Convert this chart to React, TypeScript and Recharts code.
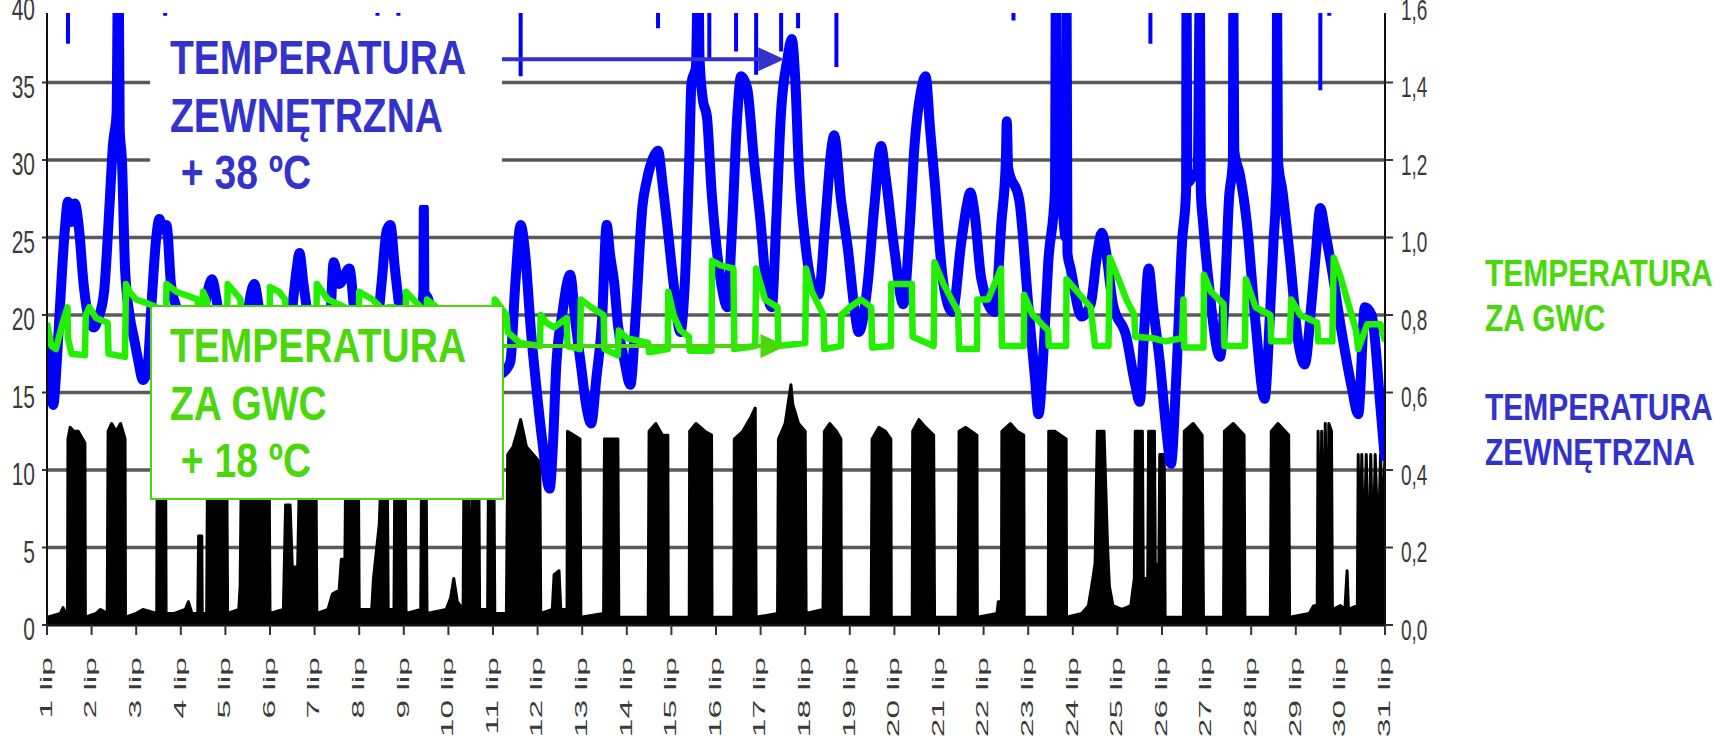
import React from "react";
import { Area, CartesianGrid, ComposedChart, Line, ReferenceLine, XAxis, YAxis } from "recharts";

// dni lipca na osi X
const dayTicks = Array.from({ length: 31 }, (_, i) => i + 1);
const tempTicks = [0, 5, 10, 15, 20, 25, 30, 35, 40];
const flowTicks = [0, 0.2, 0.4, 0.6, 0.8, 1.0, 1.2, 1.4, 1.6];

// temperatura zewnętrzna [dzień, °C]
const outdoorTemp: [number, number][] = [
  [1.0, 18], [1.08, 15.5], [1.14, 14.2], [1.22, 17], [1.3, 21], [1.4, 25.5], [1.47, 27.3], [1.55, 26], [1.62, 27.2], [1.72, 25.5], [1.82, 22], [1.92, 20],
  [2.05, 19.2], [2.15, 19.8], [2.28, 21.5], [2.4, 27], [2.48, 31], [2.56, 33], [2.59, 41], [2.61, 41], [2.63, 32], [2.68, 30], [2.75, 23], [2.85, 20], [2.95, 18.5],
  [3.05, 17], [3.15, 15.8], [3.25, 16.5], [3.35, 21], [3.45, 25], [3.52, 26.2], [3.6, 25.5], [3.68, 25.8], [3.78, 22], [3.9, 20.5],
  [4.0, 19.5], [4.15, 17], [4.3, 16], [4.45, 19], [4.6, 21.5], [4.7, 22.3], [4.8, 21], [4.95, 18],
  [5.1, 16.5], [5.3, 16], [5.45, 19], [5.58, 21.5], [5.65, 22], [5.75, 20.5], [5.9, 18],
  [6.1, 16.5], [6.3, 15.5], [6.45, 19], [6.6, 23], [6.66, 24], [6.75, 22], [6.9, 19],
  [7.1, 17], [7.3, 17], [7.43, 23.4], [7.55, 22], [7.78, 23], [7.9, 20],
  [8.1, 17.5], [8.3, 17], [8.5, 22], [8.62, 25.5], [8.7, 25.8], [8.8, 23], [8.95, 19.5],
  [9.15, 17.5], [9.35, 19], [9.44, 21.5], [9.45, 26.9], [9.46, 21.5], [9.55, 21], [9.7, 18.5], [9.9, 17],
  [10.1, 19.5], [10.3, 17.5], [10.5, 15.5], [10.7, 14.5], [10.9, 15],
  [11.1, 16], [11.3, 16.5], [11.39, 17], [11.5, 22], [11.62, 25.8], [11.72, 24], [11.85, 19], [11.97, 15.4],
  [12.1, 12], [12.27, 8.8], [12.35, 12], [12.42, 16.8], [12.55, 20], [12.73, 22.6], [12.85, 19.5], [12.97, 16.8],
  [13.1, 14], [13.2, 13], [13.32, 16], [13.44, 19.4], [13.55, 25.8], [13.62, 24], [13.72, 22], [13.8, 19.4], [13.95, 17],
  [14.08, 15.5], [14.2, 20], [14.35, 27], [14.45, 28.7], [14.6, 30.2], [14.7, 30.6], [14.8, 28.5], [14.9, 26],
  [15.05, 22], [15.2, 18.9], [15.3, 22], [15.4, 30], [15.45, 35], [15.55, 36], [15.59, 41], [15.61, 41], [15.63, 36.7], [15.7, 34], [15.8, 32.7], [15.9, 28],
  [16.0, 24.7], [16.15, 21.5], [16.25, 20.5], [16.35, 25], [16.48, 33], [16.56, 35.4], [16.7, 34.6], [16.85, 30],
  [17.0, 26], [17.12, 22], [17.25, 20.5], [17.35, 26], [17.45, 32.7], [17.6, 36.5], [17.7, 37.8], [17.78, 35], [17.85, 30],
  [18.0, 24.7], [18.15, 22], [18.3, 21.3], [18.45, 26], [18.6, 31], [18.65, 31.6], [18.8, 27.5], [18.96, 24.2],
  [19.1, 20.5], [19.2, 18.9], [19.4, 22], [19.55, 27], [19.7, 30.9], [19.8, 29],
  [20.0, 24.2], [20.2, 20.7], [20.35, 26], [20.45, 30.9], [20.6, 34.5], [20.7, 35.4], [20.8, 32], [20.9, 28.7],
  [21.1, 22], [21.3, 20.2], [21.5, 24.7], [21.62, 27], [21.7, 27.9], [21.8, 26.5], [21.95, 22.3],
  [22.25, 20.2], [22.4, 26], [22.5, 30], [22.52, 32.5], [22.55, 29.5], [22.8, 27.4],
  [23.0, 20.7], [23.15, 16], [23.23, 13.6], [23.35, 18], [23.45, 23.4], [23.6, 28], [23.62, 41], [23.64, 28.5], [23.7, 29.5], [23.84, 25], [23.86, 41], [23.88, 24], [23.95, 23],
  [24.2, 19.9], [24.4, 20.7], [24.55, 24], [24.65, 25.3], [24.75, 24], [24.9, 20.7],
  [25.2, 18.6], [25.4, 15.5], [25.5, 14.4], [25.6, 19], [25.7, 23], [25.8, 20.5], [25.95, 17],
  [26.1, 12.5], [26.2, 10.4], [26.32, 16], [26.45, 24.7], [26.54, 28], [26.55, 41], [26.57, 28.5], [26.7, 29], [26.8, 29.3], [26.85, 41], [26.87, 28], [26.92, 26],
  [27.05, 22], [27.3, 17.3], [27.42, 22], [27.5, 27.4], [27.59, 30], [27.6, 41], [27.62, 30.6], [27.75, 29], [27.9, 26],
  [28.1, 19.4], [28.3, 14.6], [28.42, 20], [28.5, 24.7], [28.57, 29], [28.58, 41], [28.6, 30], [28.7, 28], [28.85, 24.2],
  [29.07, 18], [29.2, 16.8], [29.35, 20.7], [29.45, 24], [29.55, 26.9], [29.65, 25.5], [29.8, 23.1],
  [30.0, 19.4], [30.25, 15.4], [30.4, 13.6], [30.55, 20.5], [30.7, 20], [30.9, 14], [31.0, 10.6],
];

// oderwane odczyty przy górnej krawędzi [dzień, od °C, do °C]
const outdoorSpikes: [number, number, number][] = [
  [1.47, 37.5, 41], [3.65, 39.3, 41], [8.41, 39.3, 41], [8.88, 39.3, 41], [11.62, 35.4, 41], [14.7, 38.5, 41],
  [15.85, 36.5, 41], [16.45, 37, 41], [16.9, 35.5, 41], [17.46, 37, 41], [17.84, 38.5, 41], [18.7, 36, 41],
  [22.67, 39, 41], [25.74, 37.5, 41], [29.55, 34.5, 41], [29.75, 39.3, 41],
];

// temperatura za GWC [dzień, °C]
const gwcTemp: [number, number][] = [
  [1.0, 19.5], [1.1, 18], [1.2, 17.8], [1.35, 19.5], [1.46, 20.5], [1.47, 18.5], [1.55, 17.5], [1.85, 17.4], [1.87, 20], [1.95, 20.5],
  [2.1, 19.8], [2.36, 19.5], [2.38, 17.5], [2.75, 17.3], [2.77, 22], [2.85, 21.5], [3.0, 21], [3.2, 20.8], [3.46, 20.5], [3.48, 18.5],
  [3.66, 18.5], [3.68, 22], [3.9, 21.5], [4.38, 21], [4.4, 18.5], [4.48, 19], [4.5, 21.5], [4.58, 21], [4.6, 18], [5.03, 18],
  [5.05, 22], [5.2, 21.5], [5.34, 21], [5.36, 18], [5.98, 18], [6.0, 21.8], [6.2, 21.5], [6.34, 21], [6.36, 19], [6.65, 19],
  [6.68, 18], [7.03, 18], [7.05, 22], [7.3, 21], [7.68, 20.5], [7.7, 18], [7.98, 18], [8.0, 21.5], [8.3, 21], [8.48, 20.5],
  [8.5, 18], [8.63, 18], [8.65, 20.5], [8.78, 20.5], [8.8, 18], [9.03, 18], [9.05, 21.5], [9.38, 20.5], [9.4, 18], [9.5, 18],
  [9.52, 21], [9.95, 20], [10.33, 19.5], [10.35, 18], [10.45, 18], [10.47, 19.5], [10.55, 18], [10.68, 18], [10.7, 19.5], [10.88, 19],
  [10.9, 18], [11.02, 18], [11.04, 21], [11.3, 20], [11.33, 18.9], [11.6, 18.2], [12.05, 18], [12.07, 20], [12.2, 19.5], [12.37, 19.2],
  [12.65, 19.8], [12.67, 18], [12.95, 17.8], [12.97, 21], [13.2, 20.5], [13.48, 20], [13.5, 17.8], [13.8, 17.4], [13.82, 19], [14.0, 18.5],
  [14.48, 18.2], [14.5, 17.6], [14.92, 17.8], [14.93, 21.5], [15.05, 20], [15.2, 19], [15.39, 18.6], [15.41, 17.7], [15.9, 17.7], [15.91, 23.5],
  [16.1, 23.2], [16.39, 23], [16.41, 17.8], [16.88, 18], [16.9, 23], [17.1, 21], [17.38, 20.5], [17.4, 18], [18.0, 18.2], [18.02, 23],
  [18.15, 21.5], [18.41, 20], [18.43, 17.8], [18.8, 18], [18.81, 20], [19.0, 20.5], [19.25, 21], [19.48, 20.5], [19.5, 17.9], [19.92, 18],
  [19.93, 22], [20.15, 22], [20.39, 22], [20.41, 18.6], [20.88, 18], [20.9, 23.4], [21.1, 22], [21.43, 20.2], [21.45, 17.8], [21.85, 17.8],
  [21.86, 21], [22.1, 21], [22.39, 23], [22.41, 18], [22.9, 18], [22.91, 21.3], [23.1, 20], [23.45, 19], [23.46, 18], [23.85, 18],
  [23.86, 22.3], [24.1, 21.5], [24.4, 20.5], [24.5, 18], [24.8, 18], [24.83, 23.7], [25.0, 22.5], [25.2, 21], [25.38, 20], [25.4, 18.6],
  [25.8, 18.5], [26.07, 18.3], [26.45, 18.5], [26.48, 21], [26.5, 17.9], [26.93, 17.9], [26.94, 22.6], [27.1, 21.5], [27.38, 20.7], [27.4, 18],
  [27.86, 18], [27.88, 22.3], [28.1, 20.5], [28.43, 20], [28.45, 18.3], [28.86, 18.3], [28.9, 21], [29.1, 20], [29.48, 19.5], [29.5, 18.3],
  [29.82, 18.3], [29.85, 23.7], [30.0, 22.5], [30.2, 20.5], [30.35, 19], [30.4, 17.8], [30.6, 19.4], [30.9, 19.4], [31.0, 18.3],
];

// przepływ wentylatora, prawa oś [dzień, wartość]
const fanFlow: [number, number][] = [
  [1.0, 0.02], [1.3, 0.03], [1.36, 0.045], [1.42, 0.03], [1.46, 0.03], [1.47, 0.48], [1.52, 0.51], [1.6, 0.5], [1.7, 0.5], [1.8, 0.48], [1.85, 0.47], [1.86, 0.02],
  [2.1, 0.03], [2.2, 0.04], [2.35, 0.03], [2.37, 0.5], [2.45, 0.52], [2.55, 0.5], [2.65, 0.52], [2.75, 0.48], [2.76, 0.02],
  [3.0, 0.03], [3.15, 0.04], [3.46, 0.03], [3.47, 0.4], [3.55, 0.42], [3.58, 0.14], [3.62, 0.14], [3.63, 0.4], [3.66, 0.42], [3.67, 0.03],
  [3.85, 0.03], [4.1, 0.04], [4.17, 0.06], [4.25, 0.03], [4.38, 0.03], [4.4, 0.23], [4.47, 0.23], [4.48, 0.03], [4.58, 0.03],
  [4.6, 0.42], [4.7, 0.44], [4.75, 0.1], [4.8, 0.44], [4.95, 0.42], [5.03, 0.42], [5.05, 0.03], [5.3, 0.04], [5.33, 0.1],
  [5.36, 0.42], [5.5, 0.44], [5.7, 0.43], [5.9, 0.42], [5.98, 0.42], [6.0, 0.03], [6.3, 0.04], [6.35, 0.31], [6.45, 0.31],
  [6.5, 0.15], [6.62, 0.15], [6.66, 0.38], [6.75, 0.4], [6.8, 0.2], [6.85, 0.42], [7.03, 0.42], [7.05, 0.03], [7.3, 0.04],
  [7.4, 0.08], [7.55, 0.09], [7.6, 0.17], [7.68, 0.17], [7.7, 0.44], [7.98, 0.44], [8.0, 0.04], [8.28, 0.04], [8.32, 0.12],
  [8.45, 0.26], [8.5, 0.42], [8.63, 0.42], [8.65, 0.04], [8.78, 0.04], [8.8, 0.42], [9.03, 0.42], [9.05, 0.03], [9.38, 0.04],
  [9.4, 0.42], [9.5, 0.42], [9.52, 0.03], [9.95, 0.04], [10.05, 0.07], [10.12, 0.12], [10.2, 0.06], [10.33, 0.04], [10.35, 0.42],
  [10.45, 0.42], [10.47, 0.04], [10.55, 0.42], [10.68, 0.42], [10.7, 0.04], [10.88, 0.04], [10.9, 0.42], [11.02, 0.42], [11.04, 0.03],
  [11.3, 0.03], [11.33, 0.44], [11.45, 0.46], [11.55, 0.5], [11.62, 0.53], [11.75, 0.46], [11.9, 0.44], [12.05, 0.42], [12.07, 0.03],
  [12.33, 0.04], [12.37, 0.13], [12.48, 0.14], [12.52, 0.04], [12.66, 0.04], [12.67, 0.5], [12.95, 0.48], [12.97, 0.02],
  [13.48, 0.03], [13.5, 0.48], [13.8, 0.48], [13.82, 0.02], [14.48, 0.02], [14.5, 0.5], [14.65, 0.52], [14.8, 0.49], [14.92, 0.49], [14.93, 0.02],
  [15.4, 0.02], [15.41, 0.5], [15.55, 0.52], [15.75, 0.5], [15.9, 0.49], [15.91, 0.02], [16.4, 0.02], [16.41, 0.48], [16.6, 0.5], [16.8, 0.54], [16.88, 0.56], [16.9, 0.02],
  [17.38, 0.03], [17.4, 0.48], [17.55, 0.52], [17.68, 0.62], [17.72, 0.57], [17.85, 0.52], [18.0, 0.5], [18.02, 0.03],
  [18.4, 0.04], [18.43, 0.5], [18.55, 0.52], [18.7, 0.5], [18.8, 0.48], [18.81, 0.02], [19.48, 0.02], [19.5, 0.48], [19.65, 0.51], [19.8, 0.5], [19.92, 0.48], [19.93, 0.02],
  [20.4, 0.02], [20.41, 0.5], [20.55, 0.53], [20.7, 0.51], [20.88, 0.49], [20.9, 0.02], [21.43, 0.02], [21.45, 0.5], [21.6, 0.51], [21.85, 0.49], [21.86, 0.02],
  [22.3, 0.03], [22.33, 0.06], [22.4, 0.06], [22.41, 0.5], [22.6, 0.52], [22.75, 0.5], [22.9, 0.49], [22.91, 0.02],
  [23.45, 0.02], [23.46, 0.5], [23.6, 0.5], [23.85, 0.48], [23.86, 0.02], [24.2, 0.03], [24.35, 0.05], [24.45, 0.12], [24.5, 0.16],
  [24.55, 0.5], [24.7, 0.5], [24.78, 0.2], [24.82, 0.1], [24.9, 0.05], [25.1, 0.04], [25.3, 0.05], [25.38, 0.12], [25.4, 0.5],
  [25.56, 0.5], [25.58, 0.12], [25.68, 0.12], [25.7, 0.5], [25.83, 0.5], [25.85, 0.15], [25.93, 0.16], [25.95, 0.44], [26.05, 0.44], [26.07, 0.02],
  [26.48, 0.02], [26.5, 0.5], [26.7, 0.52], [26.9, 0.49], [26.93, 0.02], [27.38, 0.02], [27.4, 0.5], [27.6, 0.52], [27.84, 0.49], [27.86, 0.02],
  [28.43, 0.02], [28.45, 0.5], [28.6, 0.52], [28.84, 0.49], [28.86, 0.02], [29.3, 0.03], [29.4, 0.05], [29.48, 0.05], [29.5, 0.5],
  [29.55, 0.1], [29.58, 0.5], [29.63, 0.08], [29.66, 0.52], [29.72, 0.1], [29.74, 0.52], [29.8, 0.5], [29.82, 0.04],
  [30.0, 0.05], [30.1, 0.04], [30.15, 0.14], [30.18, 0.04], [30.38, 0.05], [30.4, 0.44], [30.43, 0.08], [30.48, 0.44], [30.52, 0.15],
  [30.58, 0.44], [30.63, 0.1], [30.68, 0.44], [30.73, 0.15], [30.78, 0.44], [30.85, 0.2], [30.9, 0.44], [30.95, 0.25], [31.0, 0.44],
];

const FONT = "'Liberation Sans', Arial, sans-serif";
const BLUE_TXT = "#3333cc";
const GREEN_TXT = "#4ad80c";

const pts = (rows: [number, number][]) => rows.map(([d, v]) => ({ d, v }));
const spikePts = outdoorSpikes.flatMap(([d, lo, hi]) => [
  { d, v: lo },
  { d: d + 0.0005, v: hi },
  { d: d + 0.001, v: null },
]);

function TempTick({ x, y, payload }: any) {
  return (
    <g transform={`translate(${x - 5},${y + 2})`}>
      <text transform="scale(1,1.5)" textAnchor="end" dy="0.42em" fontSize={21} fill="#3a3a3a" fontFamily={FONT}>
        {payload.value}
      </text>
    </g>
  );
}

function FlowTick({ x, y, payload }: any) {
  return (
    <g transform={`translate(${x + 6},${y + 2})`}>
      <text transform="scale(1,1.6)" textAnchor="start" dy="0.42em" fontSize={19} fill="#3a3a3a" fontFamily={FONT}>
        {Number(payload.value).toFixed(1).replace(".", ",")}
      </text>
    </g>
  );
}

function DayTick({ x, y, payload }: any) {
  return (
    <g transform={`translate(${x},${y + 20})`}>
      <text transform="rotate(-90) scale(2.1,1)" textAnchor="end" dy="0.3em" fontSize={16} fill="#3a3a3a" fontFamily={FONT}>
        {`${payload.value} lip`}
      </text>
    </g>
  );
}

const arrow = (color: string) => (p: any) => {
  const { x1, y1, x2, y2 } = p;
  return (
    <g>
      <line x1={x1} y1={y1} x2={x2 - 22} y2={y2} stroke={color} strokeWidth={4} />
      <polygon points={`${x2},${y2} ${x2 - 26},${y2 - 12} ${x2 - 26},${y2 + 12}`} fill={color} />
    </g>
  );
};

const noteText = (color: string): React.CSSProperties => ({
  position: "absolute",
  left: 170,
  fontFamily: FONT,
  fontWeight: 700,
  fontSize: 39,
  lineHeight: "46px",
  color,
  transform: "scaleY(1.25)",
  transformOrigin: "top left",
  whiteSpace: "pre",
});

const legendText = (color: string): React.CSSProperties => ({
  position: "absolute",
  left: 1485,
  fontFamily: FONT,
  fontWeight: 700,
  fontSize: 30,
  lineHeight: "38px",
  color,
  transform: "scaleY(1.2)",
  transformOrigin: "top left",
  whiteSpace: "pre",
});

export default function App() {
  return (
    <div style={{ position: "absolute", left: 0, top: 0, width: 1724, height: 749, background: "#fff", overflow: "hidden" }}>
      <ComposedChart width={1724} height={749} margin={{ top: 5, right: 279, bottom: 14, left: 7 }}>
        <CartesianGrid yAxisId="left" vertical={false} stroke="#5a5a5a" strokeWidth={3.5} />
        <XAxis
          dataKey="d"
          type="number"
          domain={[1, 31]}
          ticks={dayTicks}
          interval={0}
          height={110}
          tickSize={10}
          tick={<DayTick />}
          axisLine={{ stroke: "#111", strokeWidth: 2 }}
          tickLine={{ stroke: "#333", strokeWidth: 2 }}
          allowDataOverflow
        />
        <YAxis
          yAxisId="left"
          type="number"
          domain={[0, 40]}
          ticks={tempTicks}
          interval={0}
          width={40}
          tickSize={5}
          tick={<TempTick />}
          axisLine={{ stroke: "#111", strokeWidth: 2 }}
          tickLine={{ stroke: "#333", strokeWidth: 2 }}
          allowDataOverflow
        />
        <YAxis
          yAxisId="right"
          orientation="right"
          type="number"
          domain={[0, 1.6]}
          ticks={flowTicks}
          interval={0}
          width={60}
          tickSize={8}
          tick={<FlowTick />}
          axisLine={{ stroke: "#111", strokeWidth: 2 }}
          tickLine={{ stroke: "#333", strokeWidth: 2 }}
          allowDataOverflow
        />
        <Area
          yAxisId="right"
          data={pts(fanFlow)}
          dataKey="v"
          type="linear"
          stroke="#000"
          strokeWidth={3}
          strokeLinejoin="round"
          fill="#000"
          fillOpacity={1}
          isAnimationActive={false}
        />
        <Line
          yAxisId="left"
          data={pts(outdoorTemp)}
          dataKey="v"
          type="monotone"
          stroke="#0000ff"
          strokeWidth={10}
          strokeLinejoin="round"
          dot={false}
          isAnimationActive={false}
        />
        <Line yAxisId="left" data={spikePts} dataKey="v" type="linear" stroke="#0000ff" strokeWidth={4} dot={false} isAnimationActive={false} />
        <Line
          yAxisId="left"
          data={pts(gwcTemp)}
          dataKey="v"
          type="linear"
          stroke="#22f000"
          strokeWidth={6.5}
          strokeLinejoin="round"
          dot={false}
          isAnimationActive={false}
        />
        <ReferenceLine
          yAxisId="left"
          segment={[{ x: 11.13, y: 36.5 }, { x: 17.53, y: 36.5 }]}
          ifOverflow="visible"
          shape={arrow(BLUE_TXT)}
        />
        <ReferenceLine
          yAxisId="left"
          segment={[{ x: 11.13, y: 18 }, { x: 17.58, y: 18 }]}
          ifOverflow="visible"
          shape={arrow(GREEN_TXT)}
        />
      </ComposedChart>

      {/* górny pas ucięty jak w oryginale */}
      <div style={{ position: "absolute", left: 40, top: 0, width: 1355, height: 13, background: "#fff" }} />

      {/* ramka: temperatura zewnętrzna */}
      <div style={{ position: "absolute", left: 150, top: 18, width: 352, height: 187, background: "#fff" }} />
      <div style={{ ...noteText(BLUE_TXT), top: 29 }}>{"TEMPERATURA\nZEWNĘTRZNA\n + 38 ºC"}</div>

      {/* ramka: temperatura za GWC */}
      <div
        style={{
          position: "absolute",
          left: 150,
          top: 305,
          width: 350,
          height: 191,
          background: "#fff",
          border: `2.5px solid ${GREEN_TXT}`,
        }}
      />
      <div style={{ ...noteText(GREEN_TXT), top: 317 }}>{"TEMPERATURA\nZA GWC\n + 18 ºC"}</div>

      {/* legenda po prawej */}
      <div style={{ ...legendText(GREEN_TXT), top: 251 }}>{"TEMPERATURA\nZA GWC"}</div>
      <div style={{ ...legendText(BLUE_TXT), top: 385 }}>{"TEMPERATURA\nZEWNĘTRZNA"}</div>
    </div>
  );
}
